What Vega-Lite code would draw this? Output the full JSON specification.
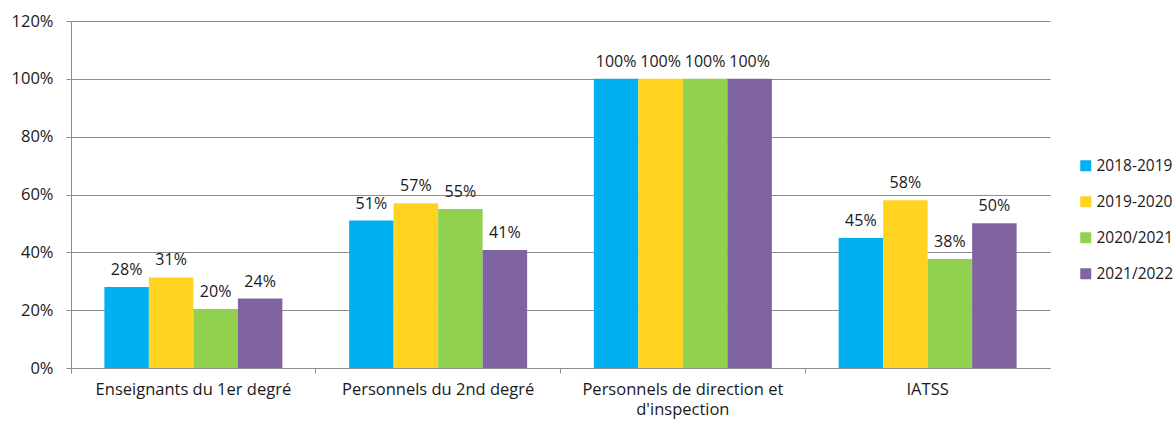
{
  "$schema": "https://vega.github.io/schema/vega-lite/v6.json",
  "autosize": "none",
  "padding": {"left": 71, "top": 21, "right": 125, "bottom": 53},
  "width": 979,
  "height": 347,
  "background": "white",
  "config": {
    "font": "Open Sans",
    "view": {"stroke": null},
    "axis": {"labelFont": "Open Sans", "labelColor": "#1a1a1a", "titleFont": "Open Sans"},
    "legend": {"labelFont": "Open Sans"}
  },
  "data": {
    "values": [
      {"categorie": "Enseignants du 1er degré", "annee": "2018-2019", "taux": 0.28},
      {"categorie": "Enseignants du 1er degré", "annee": "2019-2020", "taux": 0.313},
      {"categorie": "Enseignants du 1er degré", "annee": "2020/2021", "taux": 0.204},
      {"categorie": "Enseignants du 1er degré", "annee": "2021/2022", "taux": 0.24},
      {"categorie": "Personnels du 2nd degré", "annee": "2018-2019", "taux": 0.51},
      {"categorie": "Personnels du 2nd degré", "annee": "2019-2020", "taux": 0.57},
      {"categorie": "Personnels du 2nd degré", "annee": "2020/2021", "taux": 0.55},
      {"categorie": "Personnels du 2nd degré", "annee": "2021/2022", "taux": 0.408},
      {"categorie": "Personnels de direction et d'inspection", "annee": "2018-2019", "taux": 1.0},
      {"categorie": "Personnels de direction et d'inspection", "annee": "2019-2020", "taux": 1.0},
      {"categorie": "Personnels de direction et d'inspection", "annee": "2020/2021", "taux": 1.0},
      {"categorie": "Personnels de direction et d'inspection", "annee": "2021/2022", "taux": 1.0},
      {"categorie": "IATSS", "annee": "2018-2019", "taux": 0.45},
      {"categorie": "IATSS", "annee": "2019-2020", "taux": 0.58},
      {"categorie": "IATSS", "annee": "2020/2021", "taux": 0.377},
      {"categorie": "IATSS", "annee": "2021/2022", "taux": 0.501}
    ]
  },
  "encoding": {
    "x": {
      "field": "categorie",
      "type": "nominal",
      "sort": null,
      "scale": {"paddingInner": 0, "paddingOuter": 0},
      "axis": {
        "title": null,
        "labelAngle": 0,
        "labelFontSize": 16.5,
        "labelLimit": 0,
        "bandPosition": 0,
        "tickSize": 5,
        "tickColor": "#8c8c8c",
        "domainColor": "#8c8c8c",
        "labelPadding": 8,
        "labelLineHeight": 20,
        "labelExpr": "datum.value === \"Personnels de direction et d'inspection\" ? ['Personnels de direction et', \"d'inspection\"] : datum.value"
      }
    },
    "xOffset": {
      "field": "annee",
      "type": "nominal",
      "scale": {"paddingInner": 0, "paddingOuter": 0.75}
    },
    "y": {
      "field": "taux",
      "type": "quantitative",
      "scale": {"domain": [0, 1.2], "nice": false},
      "axis": {
        "title": null,
        "format": ".0%",
        "values": [0, 0.2, 0.4, 0.6, 0.8, 1.0, 1.2],
        "labelFontSize": 16.5,
        "tickSize": 5,
        "tickColor": "#8c8c8c",
        "domainColor": "#8c8c8c",
        "gridColor": "#8c8c8c",
        "labelPadding": 13
      }
    }
  },
  "layer": [
    {
      "mark": {"type": "bar"},
      "encoding": {
        "color": {
          "field": "annee",
          "type": "nominal",
          "scale": {
            "domain": ["2018-2019", "2019-2020", "2020/2021", "2021/2022"],
            "range": ["#00B0F0", "#FFD320", "#92D050", "#8064A2"]
          },
          "legend": {
            "title": null,
            "orient": "none",
            "legendX": 1007,
            "legendY": 137,
            "symbolType": "square",
            "symbolSize": 121,
            "symbolStrokeWidth": 0,
            "labelFontSize": 15.5,
            "labelColor": "#1a1a1a",
            "rowPadding": 19,
            "labelOffset": 3
          }
        }
      }
    },
    {
      "mark": {"type": "text", "baseline": "bottom", "dy": -9, "fontSize": 16, "color": "#1a1a1a"},
      "encoding": {
        "text": {"field": "taux", "type": "quantitative", "format": ".0%"}
      }
    }
  ]
}
